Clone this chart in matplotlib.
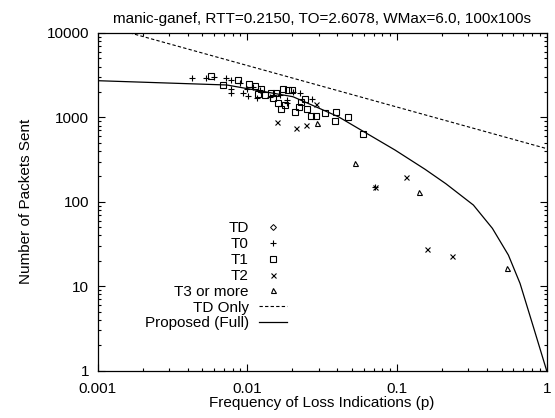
import matplotlib
matplotlib.use("Agg")
import matplotlib.pyplot as plt
from matplotlib.ticker import FixedLocator, LogLocator, NullFormatter

plt.rcParams['font.family'] = ['Liberation Sans', 'DejaVu Sans']

# loss indications (p) and packets sent
t0_p = [0.00426, 0.00531, 0.0060, 0.00718, 0.00776, 0.00776, 0.00776, 0.00895,
        0.00933, 0.00993, 0.01017, 0.0110, 0.01157, 0.01218, 0.0142, 0.01656,
        0.01836, 0.0203, 0.02254, 0.0270, 0.01836, 0.0717]
t0_n = [2906, 2906, 2985, 2906, 2773, 2153, 1931, 2577,
        1931, 2153, 1793, 2311, 1683, 2112, 1758, 1842,
        1607, 2017, 1931, 1637, 1469, 150]

t1_p = [0.00570, 0.00689, 0.00864, 0.01033, 0.01128, 0.01236, 0.01186, 0.01315,
        0.01436, 0.01556, 0.01494, 0.01614, 0.01675, 0.01726, 0.01882, 0.0200,
        0.0179, 0.02086, 0.02228, 0.02276, 0.0243, 0.0252, 0.02655, 0.0287,
        0.0331, 0.0392, 0.0386, 0.0469, 0.0597]
t1_n = [3119, 2421, 2773, 2488, 2355, 2153, 1878, 1842,
        1963, 1963, 1683, 1469, 1247, 2153, 2112, 2112,
        1402, 1169, 1318, 1535, 1637, 1247, 1040, 1040,
        1137, 1169, 914, 1019, 631]

t2_p = [0.01574, 0.0212, 0.0246, 0.02884, 0.1145, 0.158, 0.2334, 0.0717]
t2_n = [875, 749, 820, 1429, 198, 27.4, 23, 150]

t3_p = [0.0291, 0.0521, 0.1412, 0.543]
t3_n = [851, 290, 132, 16.4]

td_only_p = [0.001, 1.0]
td_only_n = [12800, 427]

full_p = [0.001, 0.0073, 0.0202, 0.0406, 0.097, 0.154, 0.212, 0.324,
          0.434, 0.555, 0.664, 0.815, 1.0]
full_n = [2722, 2421, 1758, 1019, 411, 243, 164, 91.6,
          48.5, 23.4, 10.8, 3.3, 1.0]

x_ticks = [0.001, 0.01, 0.1, 1]
x_labels = ['0.001', '0.01', '0.1', '1']
y_ticks = [1, 10, 100, 1000, 10000]
y_labels = ['1', '10', '100', '1000', '10000']

fig = plt.figure(figsize=(5.55, 4.18), dpi=100)
ax = fig.add_axes([0.1757, 0.1132, 0.8093, 0.8079])

ax.plot([], [], 'kD', ms=3, mfc='none', mew=0.7, label='TD')
ax.plot(t0_p, t0_n, 'k+', ms=5, mew=0.8, label='T0')
ax.plot(t1_p, t1_n, 'ks', ms=4.3, mfc='none', mew=0.8, label='T1')
ax.plot(t2_p, t2_n, 'kx', ms=3.6, mew=0.8, label='T2')
ax.plot(t3_p, t3_n, 'k^', ms=3.6, mfc='none', mew=0.8, label='T3 or more')
ax.plot(td_only_p, td_only_n, 'k--', lw=0.8, dashes=(3, 2), label='TD Only')
ax.plot(full_p, full_n, 'k-', lw=0.9, label='Proposed (Full)')

ax.set_xscale('log')
ax.set_yscale('log')
ax.set_xlim(0.001, 1)
ax.set_ylim(1, 10000)

ax.xaxis.set_major_locator(FixedLocator(x_ticks))
ax.set_xticklabels(x_labels)
ax.yaxis.set_major_locator(FixedLocator(y_ticks))
ax.set_yticklabels(y_labels)
ax.xaxis.set_minor_locator(LogLocator(base=10, subs=range(2, 10)))
ax.yaxis.set_minor_locator(LogLocator(base=10, subs=range(2, 10)))
ax.xaxis.set_minor_formatter(NullFormatter())
ax.yaxis.set_minor_formatter(NullFormatter())
ax.tick_params(which='both', direction='in', top=True, right=True, labelsize=11, width=0.8)
ax.tick_params(which='major', length=5)
ax.tick_params(axis='x', which='major', pad=8)
ax.tick_params(axis='y', which='major', pad=6)
ax.tick_params(which='minor', length=2.5)
for s in ax.spines.values():
    s.set_linewidth(0.9)

ax.set_xlabel('Frequency of Loss Indications (p)', fontsize=11, labelpad=0)
ax.set_ylabel('Number of Packets Sent', fontsize=11, labelpad=10)
ax.set_title('manic-ganef, RTT=0.2150, TO=2.6078, WMax=6.0, 100x100s', fontsize=11, pad=7)

ax.legend(loc='upper right', bbox_to_anchor=(0.422, 0.442), frameon=False,
          markerfirst=False, fontsize=11, borderpad=0, labelspacing=0.12,
          handlelength=1.85, handletextpad=0.65, borderaxespad=0)

fig.savefig('out.png', dpi=100)
